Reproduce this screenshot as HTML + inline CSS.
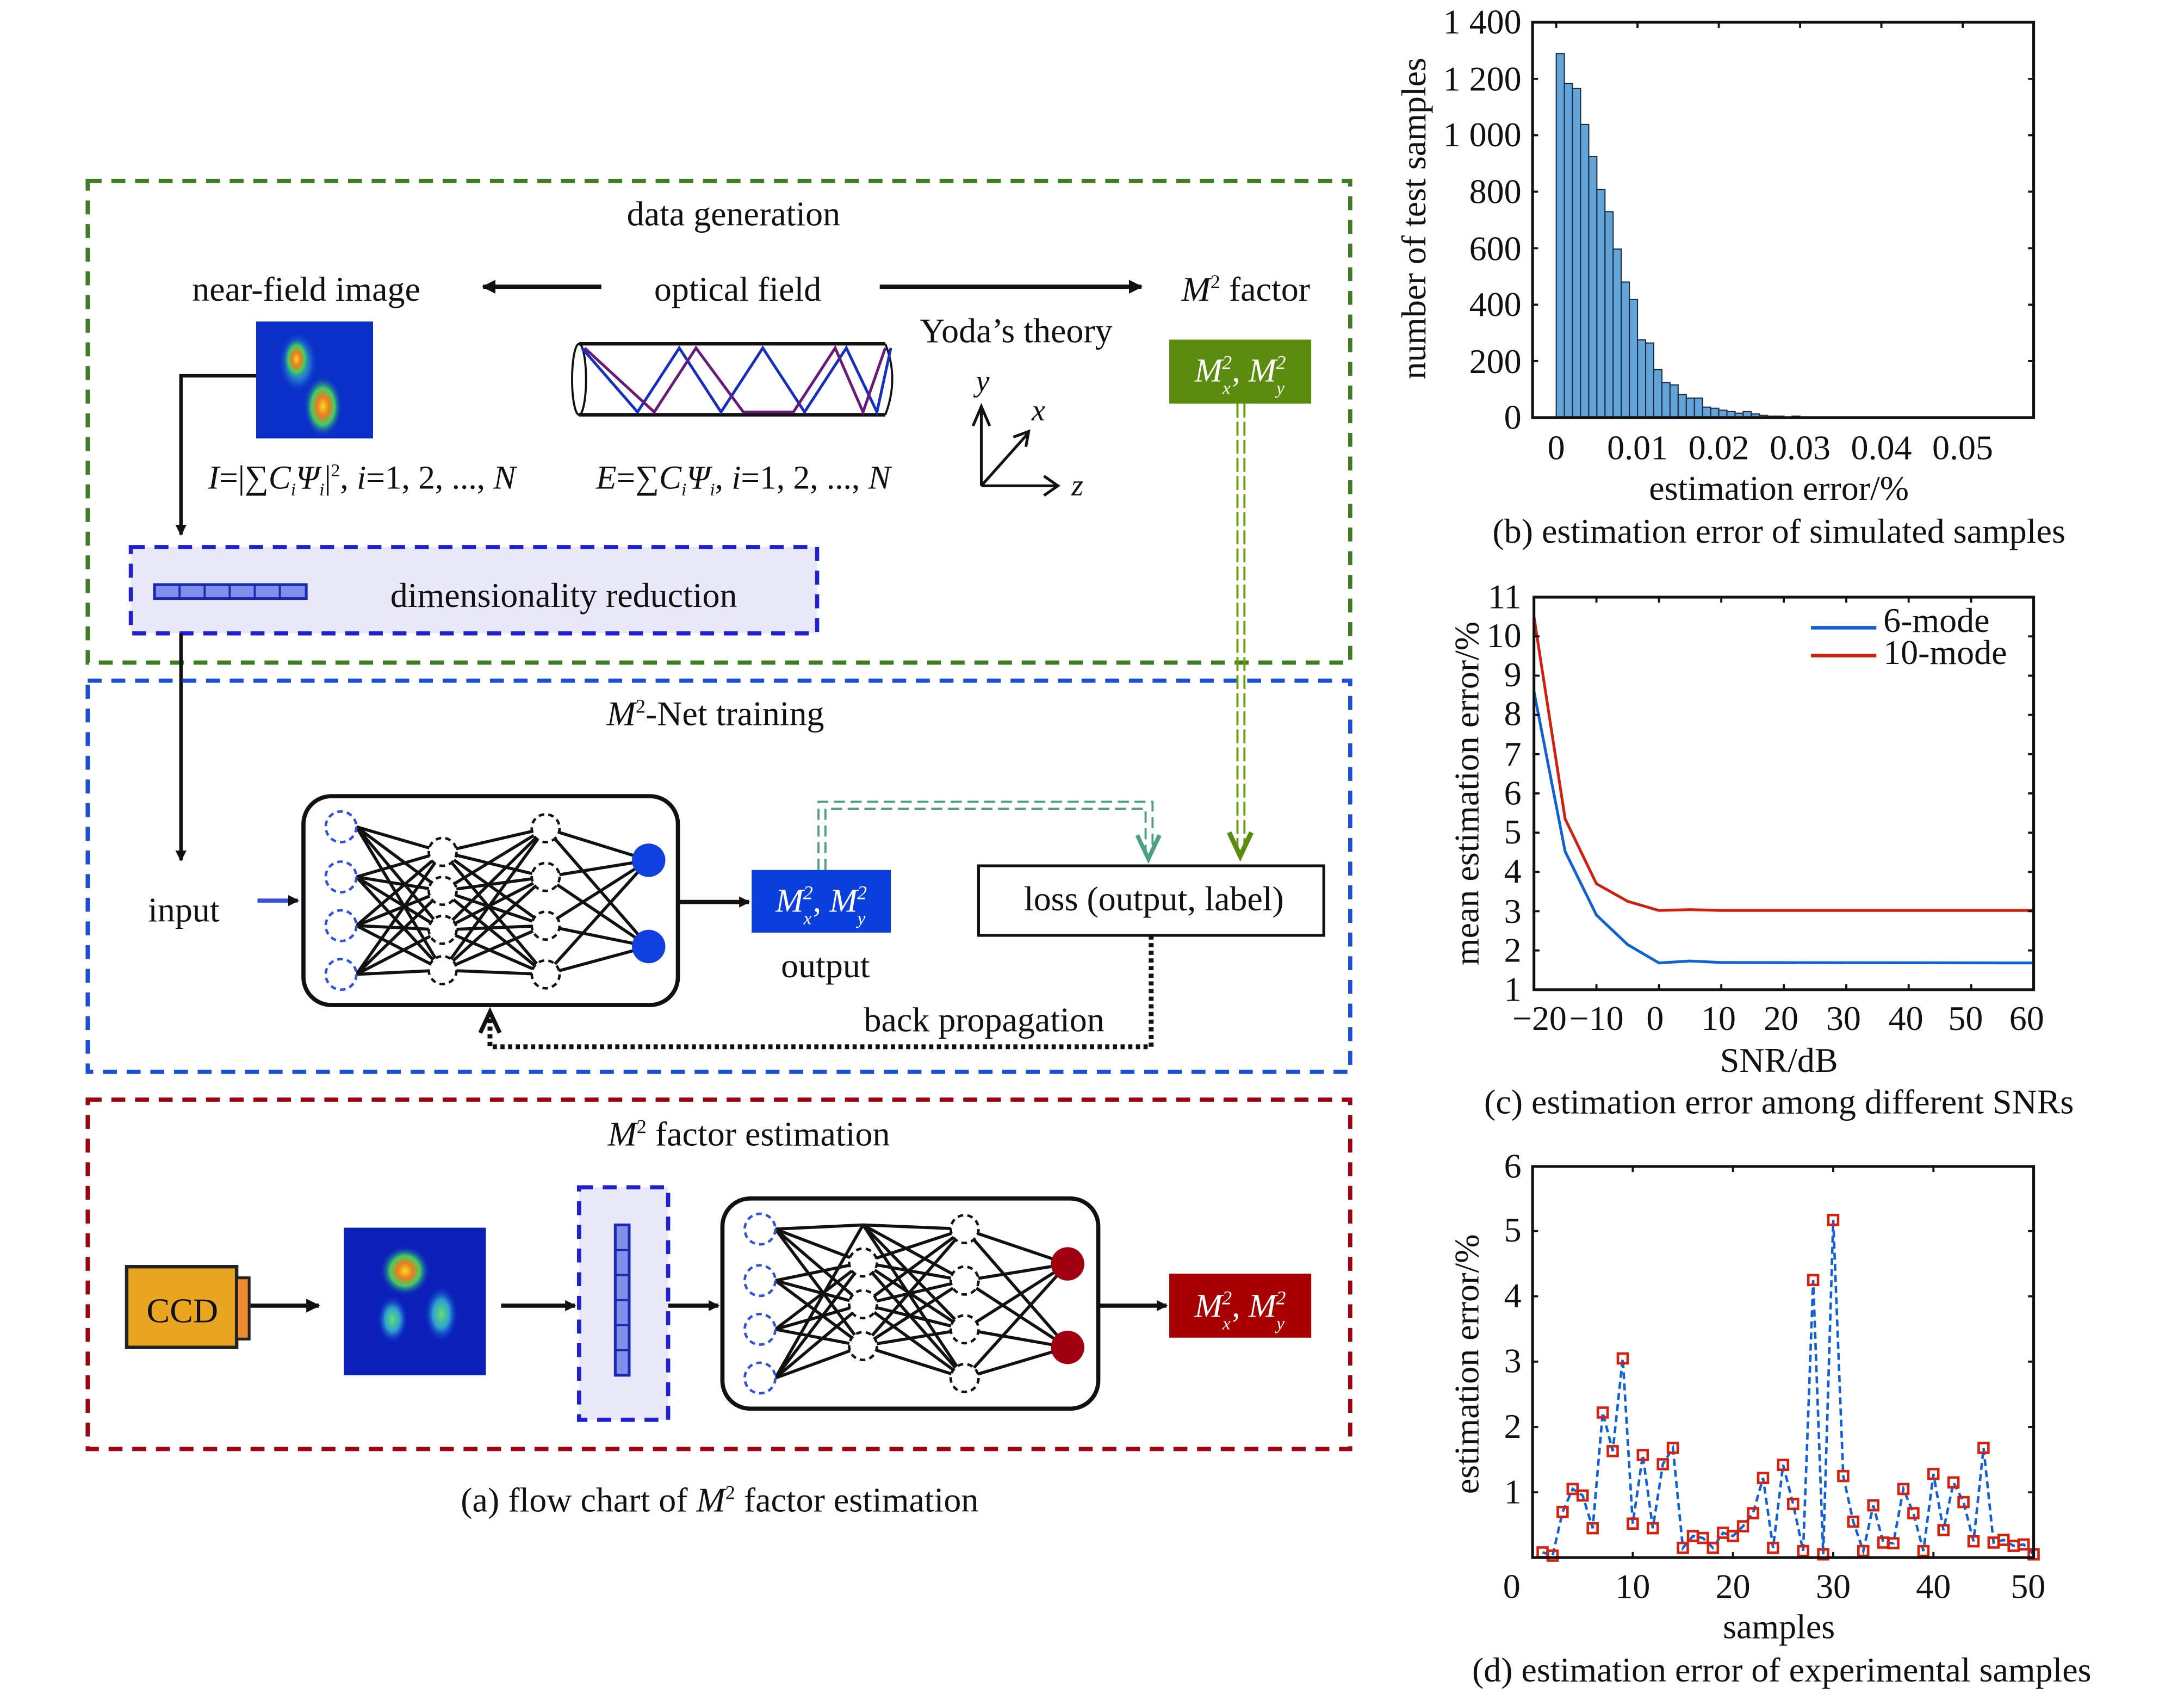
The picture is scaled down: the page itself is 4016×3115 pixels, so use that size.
<!DOCTYPE html>
<html><head><meta charset="utf-8"><style>
html,body{margin:0;padding:0;background:#fff}
svg{display:block}
text{font-family:"Liberation Serif",serif;fill:#111}
</style></head><body>
<svg width="4016" height="3115" viewBox="0 0 1569 1217" xmlns="http://www.w3.org/2000/svg">
<defs>
<marker id="ah" markerWidth="8" markerHeight="8" refX="7" refY="4" orient="auto" markerUnits="userSpaceOnUse"><path d="M0,0 L8,4 L0,8 Z" fill="#111"/></marker>
<marker id="ahb" markerWidth="10" markerHeight="10" refX="9" refY="5" orient="auto" markerUnits="userSpaceOnUse"><path d="M0,0 L10,5 L0,10 Z" fill="#111"/></marker>
<marker id="sq" markerWidth="10" markerHeight="10" refX="5" refY="5" markerUnits="userSpaceOnUse"><rect x="1.5" y="1.5" width="7" height="7" fill="none" stroke="#d8200e" stroke-width="1.8"/></marker>
<radialGradient id="g1"><stop offset="0" stop-color="#f0e020"/><stop offset="0.3" stop-color="#f07a20"/><stop offset="0.6" stop-color="#40d060"/><stop offset="1" stop-color="#0a2fd0" stop-opacity="0"/></radialGradient>
<radialGradient id="g2"><stop offset="0" stop-color="#60e070"/><stop offset="0.5" stop-color="#30a0d0"/><stop offset="1" stop-color="#0a2fd0" stop-opacity="0"/></radialGradient>
</defs>

<!-- ============ (a) flow chart ============ -->
<rect x="63" y="130" width="907" height="346" fill="none" stroke="#3f7d25" stroke-width="3" stroke-dasharray="10,7"/>
<text x="527" y="162" font-size="25" text-anchor="middle">data generation</text>
<text x="220" y="216" font-size="25" text-anchor="middle">near-field image</text>
<line x1="432" y1="206" x2="347" y2="206" stroke="#111" stroke-width="3" marker-end="url(#ahb)"/>
<text x="530" y="216" font-size="25" text-anchor="middle">optical field</text>
<line x1="632" y1="206" x2="820" y2="206" stroke="#111" stroke-width="3" marker-end="url(#ahb)"/>
<text x="895" y="216" font-size="25" text-anchor="middle"><tspan font-style="italic">M</tspan><tspan font-size="14" dy="-9">2</tspan><tspan dy="9"> factor</tspan></text>
<rect x="184" y="231" width="84" height="84" fill="#0a30c8"/>
<ellipse cx="214" cy="260" rx="14" ry="22" fill="url(#g2)"/>
<ellipse cx="213" cy="258" rx="10" ry="16" fill="url(#g1)"/>
<ellipse cx="232" cy="292" rx="14" ry="22" fill="url(#g1)"/>
<g stroke-width="1.5" fill="none">
<line x1="416" y1="247" x2="636" y2="247" stroke="#111" stroke-width="2.5"/>
<line x1="416" y1="298" x2="636" y2="298" stroke="#111" stroke-width="2.5"/>
<ellipse cx="416" cy="272.5" rx="5" ry="25.5" stroke="#111"/>
<path d="M636,247 Q646,272 636,298" stroke="#111"/>
<polyline points="418,250 458,296 488,250 518,296 548,250 578,296 608,250 630,296 640,250" stroke="#1530c0" stroke-width="2"/>
<polyline points="420,250 470,296 500,250 534,296 570,296 600,250 620,296 636,250" stroke="#6a1a7a" stroke-width="2"/>
</g>
<text x="730" y="246" font-size="25" text-anchor="middle">Yoda’s theory</text>
<g stroke="#111" stroke-width="2" fill="none">
<line x1="705" y1="349" x2="705" y2="294"/><polyline points="699,306 705,292 711,306"/>
<line x1="705" y1="349" x2="738" y2="312"/><polyline points="728,314 739,310 737,321"/>
<line x1="705" y1="349" x2="760" y2="349"/><polyline points="750,342 760,349 750,356"/>
</g>
<text x="706" y="281" font-size="22" font-style="italic" text-anchor="middle">y</text>
<text x="746" y="302" font-size="22" font-style="italic" text-anchor="middle">x</text>
<text x="774" y="356" font-size="22" font-style="italic" text-anchor="middle">z</text>
<rect x="840" y="244" width="102" height="46" fill="#5b8c10"/>
<text x="891" y="274" font-size="24" font-style="italic" text-anchor="middle" style="fill:#fff">M<tspan font-size="13" dy="9">x</tspan><tspan font-size="14" dy="-18" dx="-6">2</tspan><tspan dy="9" font-style="normal">, </tspan>M<tspan font-size="13" dy="9">y</tspan><tspan font-size="14" dy="-18" dx="-6">2</tspan></text>
<text x="260" y="351" font-size="24" text-anchor="middle"><tspan font-style="italic">I</tspan>=|∑<tspan font-style="italic">C</tspan><tspan font-size="13" dy="5" font-style="italic">i</tspan><tspan dy="-5" font-style="italic">Ψ</tspan><tspan font-size="13" dy="5" font-style="italic">i</tspan><tspan dy="-5">|</tspan><tspan font-size="13" dy="-9">2</tspan><tspan dy="9">, </tspan><tspan font-style="italic">i</tspan>=1, 2, ..., <tspan font-style="italic">N</tspan></text>
<text x="534" y="351" font-size="24" text-anchor="middle"><tspan font-style="italic">E</tspan>=∑<tspan font-style="italic">C</tspan><tspan font-size="13" dy="5" font-style="italic">i</tspan><tspan dy="-5" font-style="italic">Ψ</tspan><tspan font-size="13" dy="5" font-style="italic">i</tspan><tspan dy="-5">, </tspan><tspan font-style="italic">i</tspan>=1, 2, ..., <tspan font-style="italic">N</tspan></text>
<polyline points="184,270 130,270 130,384" fill="none" stroke="#111" stroke-width="2.5" marker-end="url(#ah)"/>
<rect x="94" y="393" width="493" height="62" fill="#e8e8f8" stroke="#2020d0" stroke-width="3" stroke-dasharray="10,7"/>
<rect x="111" y="420" width="109" height="10" fill="#8090e8" stroke="#1a2ab0" stroke-width="2"/>
<g stroke="#1a2ab0" stroke-width="1.5"><line x1="129" y1="420" x2="129" y2="430"/><line x1="147" y1="420" x2="147" y2="430"/><line x1="165" y1="420" x2="165" y2="430"/><line x1="183" y1="420" x2="183" y2="430"/><line x1="201" y1="420" x2="201" y2="430"/></g>
<text x="405" y="436" font-size="25" text-anchor="middle">dimensionality reduction</text>
<line x1="130" y1="455" x2="130" y2="618" stroke="#111" stroke-width="2.5" marker-end="url(#ah)"/>

<rect x="63" y="489" width="907" height="281" fill="none" stroke="#1a4fd8" stroke-width="3" stroke-dasharray="10,7"/>
<text x="514" y="521" font-size="25" text-anchor="middle"><tspan font-style="italic">M</tspan><tspan font-size="14" dy="-9">2</tspan><tspan dy="9">-Net training</tspan></text>
<text x="132" y="662" font-size="25" text-anchor="middle">input</text>
<line x1="185" y1="647" x2="214" y2="647" stroke="#3a4fe0" stroke-width="3" marker-end="url(#ah)"/>
<rect x="218" y="572" width="269" height="150" rx="20" fill="#fff" stroke="#111" stroke-width="3"/>
<g stroke="#111" stroke-width="2.2">
<path d="M256,594L318,612M256,594L318,640M256,594L318,668M256,594L318,697M256,630L318,612M256,630L318,640M256,630L318,668M256,630L318,697M256,665L318,612M256,665L318,640M256,665L318,668M256,665L318,697M256,700L318,612M256,700L318,640M256,700L318,668M256,700L318,697"/>
<path d="M318,612L392,595M318,612L392,630M318,612L392,665M318,612L392,700M318,640L392,595M318,640L392,630M318,640L392,665M318,640L392,700M318,668L392,595M318,668L392,630M318,668L392,665M318,668L392,700M318,697L392,595M318,697L392,630M318,697L392,665M318,697L392,700"/>
<path d="M392,595L466,618M392,595L466,680M392,630L466,618M392,630L466,680M392,665L466,618M392,665L466,680M392,700L466,618M392,700L466,680"/>
</g>
<g fill="#fff" stroke-width="1.8" stroke-dasharray="4,3">
<circle cx="245" cy="594" r="11" stroke="#3050e0"/><circle cx="245" cy="630" r="11" stroke="#3050e0"/><circle cx="245" cy="665" r="11" stroke="#3050e0"/><circle cx="245" cy="700" r="11" stroke="#3050e0"/>
<circle cx="318" cy="612" r="10" stroke="#111"/><circle cx="318" cy="640" r="10" stroke="#111"/><circle cx="318" cy="668" r="10" stroke="#111"/><circle cx="318" cy="697" r="10" stroke="#111"/>
<circle cx="392" cy="595" r="10" stroke="#111"/><circle cx="392" cy="630" r="10" stroke="#111"/><circle cx="392" cy="665" r="10" stroke="#111"/><circle cx="392" cy="700" r="10" stroke="#111"/>
</g>
<circle cx="466" cy="618" r="12" fill="#1040e0"/><circle cx="466" cy="680" r="12" fill="#1040e0"/>
<line x1="487" y1="648" x2="538" y2="648" stroke="#111" stroke-width="3" marker-end="url(#ah)"/>
<rect x="540" y="625" width="100" height="45" fill="#0a3fdb"/>
<text x="590" y="655" font-size="24" font-style="italic" text-anchor="middle" style="fill:#fff">M<tspan font-size="13" dy="9">x</tspan><tspan font-size="14" dy="-18" dx="-6">2</tspan><tspan dy="9" font-style="normal">, </tspan>M<tspan font-size="13" dy="9">y</tspan><tspan font-size="14" dy="-18" dx="-6">2</tspan></text>
<text x="593" y="702" font-size="25" text-anchor="middle">output</text>
<rect x="703" y="622" width="248" height="50" fill="#fff" stroke="#111" stroke-width="2"/>
<text x="829" y="654" font-size="25" text-anchor="middle">loss (output, label)</text>
<g fill="none" stroke="#4aa080" stroke-width="1.5" stroke-dasharray="8,4">
<polyline points="588,625 588,576 828,576 828,612"/>
<polyline points="593,625 593,581 823,581 823,612"/>
</g>
<polyline points="817,600 825,617 833,600" fill="none" stroke="#4aa080" stroke-width="3"/>
<g fill="none" stroke="#6aa010" stroke-width="1.5" stroke-dasharray="10,3">
<line x1="889" y1="290" x2="889" y2="610"/><line x1="894" y1="290" x2="894" y2="610"/>
</g>
<polyline points="883,598 891,615 899,598" fill="none" stroke="#5b8c10" stroke-width="3.5"/>
<polyline points="827,672 827,752 352,752 352,732" fill="none" stroke="#111" stroke-width="3.5" stroke-dasharray="3,2.5"/>
<polyline points="345,742 352,727 359,742" fill="none" stroke="#111" stroke-width="3"/>
<text x="707" y="741" font-size="25" text-anchor="middle">back propagation</text>

<rect x="63" y="790" width="907" height="251" fill="none" stroke="#a00010" stroke-width="3" stroke-dasharray="10,7"/>
<text x="538" y="823" font-size="25" text-anchor="middle"><tspan font-style="italic">M</tspan><tspan font-size="14" dy="-9">2</tspan><tspan dy="9"> factor estimation</tspan></text>
<rect x="91" y="910" width="79" height="58" fill="#e9a520" stroke="#222" stroke-width="2.5"/>
<rect x="170" y="918" width="9" height="44" fill="#f08a30" stroke="#222" stroke-width="2"/>
<text x="131" y="950" font-size="25" text-anchor="middle">CCD</text>
<line x1="180" y1="938" x2="229" y2="938" stroke="#111" stroke-width="3" marker-end="url(#ahb)"/>
<rect x="247" y="882" width="102" height="106" fill="#0a20b8"/>
<ellipse cx="291" cy="913" rx="18" ry="18" fill="url(#g1)"/>
<ellipse cx="282" cy="948" rx="11" ry="17" fill="url(#g2)"/>
<ellipse cx="317" cy="944" rx="12" ry="20" fill="url(#g2)"/>
<line x1="360" y1="938" x2="413" y2="938" stroke="#111" stroke-width="3" marker-end="url(#ah)"/>
<rect x="416" y="853" width="64" height="167" fill="#e8e8f8" stroke="#2020d0" stroke-width="3" stroke-dasharray="10,7"/>
<rect x="442" y="880" width="10" height="108" fill="#8090e8" stroke="#1a2ab0" stroke-width="2"/>
<g stroke="#1a2ab0" stroke-width="1.5"><line x1="442" y1="898" x2="452" y2="898"/><line x1="442" y1="916" x2="452" y2="916"/><line x1="442" y1="934" x2="452" y2="934"/><line x1="442" y1="952" x2="452" y2="952"/><line x1="442" y1="970" x2="452" y2="970"/></g>
<line x1="480" y1="938" x2="516" y2="938" stroke="#111" stroke-width="3" marker-end="url(#ah)"/>
<rect x="519" y="861" width="270" height="151" rx="20" fill="#fff" stroke="#111" stroke-width="3"/>
<g stroke="#111" stroke-width="2.2">
<path d="M557,883L620,907M557,883L620,937M557,883L620,967M557,920L620,907M557,920L620,937M557,920L620,967M557,955L620,907M557,955L620,937M557,955L620,967M557,990L620,907M557,990L620,937M557,990L620,967M557,883L620,880M557,990L620,880"/>
<path d="M620,880L693,883M620,880L693,920M620,880L693,955M620,880L693,990M620,907L693,883M620,907L693,920M620,907L693,955M620,907L693,990M620,937L693,883M620,937L693,920M620,937L693,955M620,937L693,990M620,967L693,883M620,967L693,920M620,967L693,955M620,967L693,990"/>
<path d="M693,883L767,908M693,883L767,968M693,920L767,908M693,920L767,968M693,955L767,908M693,955L767,968M693,990L767,908M693,990L767,968"/>
</g>
<g fill="#fff" stroke-width="1.8" stroke-dasharray="4,3">
<circle cx="546" cy="883" r="11" stroke="#3050e0"/><circle cx="546" cy="920" r="11" stroke="#3050e0"/><circle cx="546" cy="955" r="11" stroke="#3050e0"/><circle cx="546" cy="990" r="11" stroke="#3050e0"/>
<circle cx="620" cy="907" r="10" stroke="#111"/><circle cx="620" cy="937" r="10" stroke="#111"/><circle cx="620" cy="967" r="10" stroke="#111"/>
<circle cx="693" cy="883" r="10" stroke="#111"/><circle cx="693" cy="920" r="10" stroke="#111"/><circle cx="693" cy="955" r="10" stroke="#111"/><circle cx="693" cy="990" r="10" stroke="#111"/>
</g>
<circle cx="767" cy="908" r="12" fill="#a00010"/><circle cx="767" cy="968" r="12" fill="#a00010"/>
<line x1="789" y1="938" x2="838" y2="938" stroke="#111" stroke-width="3" marker-end="url(#ah)"/>
<rect x="840" y="915" width="102" height="46" fill="#a80000"/>
<text x="891" y="946" font-size="24" font-style="italic" text-anchor="middle" style="fill:#fff">M<tspan font-size="13" dy="9">x</tspan><tspan font-size="14" dy="-18" dx="-6">2</tspan><tspan dy="9" font-style="normal">, </tspan>M<tspan font-size="13" dy="9">y</tspan><tspan font-size="14" dy="-18" dx="-6">2</tspan></text>
<text x="517" y="1086" font-size="25" text-anchor="middle">(a) flow chart of <tspan font-style="italic">M</tspan><tspan font-size="14" dy="-9">2</tspan><tspan dy="9"> factor estimation</tspan></text>

<!-- ============ (b) histogram ============ -->
<g fill="#62a3d8" stroke="#1a2a40" stroke-width="0.8">
<rect x="1118" y="38.5" width="5.84" height="261.5"/>
<rect x="1123.84" y="60" width="5.84" height="240"/>
<rect x="1129.68" y="63.6" width="5.84" height="236.4"/>
<rect x="1135.52" y="89.4" width="5.84" height="210.6"/>
<rect x="1141.36" y="112.5" width="5.84" height="187.5"/>
<rect x="1147.2" y="136.1" width="5.84" height="163.9"/>
<rect x="1153.04" y="152.1" width="5.84" height="147.9"/>
<rect x="1158.88" y="178.9" width="5.84" height="121.1"/>
<rect x="1164.72" y="202.6" width="5.84" height="97.4"/>
<rect x="1170.56" y="215.2" width="5.84" height="84.8"/>
<rect x="1176.4" y="244.2" width="5.84" height="55.8"/>
<rect x="1182.24" y="246.4" width="5.84" height="53.6"/>
<rect x="1188.08" y="265.5" width="5.84" height="34.5"/>
<rect x="1193.92" y="274.8" width="5.84" height="25.2"/>
<rect x="1199.76" y="276.5" width="5.84" height="23.5"/>
<rect x="1205.6" y="283.4" width="5.84" height="16.6"/>
<rect x="1211.44" y="286" width="5.84" height="14"/>
<rect x="1217.28" y="286" width="5.84" height="14"/>
<rect x="1223.12" y="292.5" width="5.84" height="7.5"/>
<rect x="1228.96" y="293.3" width="5.84" height="6.7"/>
<rect x="1234.8" y="294.7" width="5.84" height="5.3"/>
<rect x="1240.64" y="295.7" width="5.84" height="4.3"/>
<rect x="1246.48" y="296.8" width="5.84" height="3.2"/>
<rect x="1252.32" y="295.7" width="5.84" height="4.3"/>
<rect x="1258.16" y="297.4" width="5.84" height="2.6"/>
<rect x="1264" y="298.4" width="5.84" height="1.6"/>
<rect x="1269.84" y="299" width="5.84" height="1"/>
<rect x="1275.68" y="299" width="5.84" height="1"/>
<rect x="1287.36" y="299" width="5.84" height="1"/>
</g>
<rect x="1101" y="16" width="360" height="284" fill="none" stroke="#111" stroke-width="2"/>
<g stroke="#111" stroke-width="1.5">
<path d="M1101,259.4h4M1101,218.9h4M1101,178.3h4M1101,137.7h4M1101,97.1h4M1101,56.6h4M1461,259.4h-4M1461,218.9h-4M1461,178.3h-4M1461,137.7h-4M1461,97.1h-4M1461,56.6h-4"/>
<path d="M1118,16v4M1176.4,16v4M1234.8,16v4M1293.2,16v4M1351.6,16v4M1410,16v4"/>
</g>
<g font-size="25" text-anchor="end">
<text x="1093" y="308">0</text><text x="1093" y="268">200</text><text x="1093" y="227">400</text><text x="1093" y="187">600</text><text x="1093" y="146">800</text><text x="1093" y="105">1 000</text><text x="1093" y="65">1 200</text><text x="1093" y="24">1 400</text>
</g>
<g font-size="25" text-anchor="middle">
<text x="1118" y="330">0</text><text x="1176.4" y="330">0.01</text><text x="1234.8" y="330">0.02</text><text x="1293.2" y="330">0.03</text><text x="1351.6" y="330">0.04</text><text x="1410" y="330">0.05</text>
</g>
<text x="1278" y="359" font-size="25" text-anchor="middle">estimation error/%</text>
<text transform="translate(1024,157) rotate(-90)" font-size="25" text-anchor="middle">number of test samples</text>
<text x="1278" y="390" font-size="25" text-anchor="middle">(b) estimation error of simulated samples</text>

<!-- ============ (c) SNR ============ -->
<polyline points="1102,443 1124.4,588.3 1146.9,634.9 1169.3,647.5 1191.8,654.1 1214.2,653.5 1236.6,654.1 1461,654.1" fill="none" stroke="#d02010" stroke-width="2"/>
<polyline points="1102,496.7 1124.4,611.7 1146.9,657.4 1169.3,678.6 1191.8,691.8 1214.2,690.4 1236.6,691.5 1461,691.8" fill="none" stroke="#1060d8" stroke-width="2"/>
<rect x="1102" y="429" width="359" height="282" fill="none" stroke="#111" stroke-width="2"/>
<g stroke="#111" stroke-width="1.5">
<path d="M1102,682.8h4M1102,654.6h4M1102,626.4h4M1102,598.2h4M1102,570h4M1102,541.8h4M1102,513.6h4M1102,485.4h4M1102,457.2h4M1461,682.8h-4M1461,654.6h-4M1461,626.4h-4M1461,598.2h-4M1461,570h-4M1461,541.8h-4M1461,513.6h-4M1461,485.4h-4M1461,457.2h-4"/>
<path d="M1146.9,711v-4M1191.8,711v-4M1236.6,711v-4M1281.5,711v-4M1326.4,711v-4M1371.2,711v-4M1416.1,711v-4M1146.9,429v4M1191.8,429v4M1236.6,429v4M1281.5,429v4M1326.4,429v4M1371.2,429v4M1416.1,429v4"/>
</g>
<g font-size="25" text-anchor="end">
<text x="1093" y="719">1</text><text x="1093" y="691">2</text><text x="1093" y="663">3</text><text x="1093" y="634">4</text><text x="1093" y="606">5</text><text x="1093" y="578">6</text><text x="1093" y="550">7</text><text x="1093" y="521">8</text><text x="1093" y="493">9</text><text x="1093" y="465">10</text><text x="1093" y="437">11</text>
</g>
<g font-size="25" text-anchor="middle">
<text x="1106" y="740">−20</text><text x="1146.9" y="740">−10</text><text x="1189" y="740">0</text><text x="1234.6" y="740">10</text><text x="1279.5" y="740">20</text><text x="1324.4" y="740">30</text><text x="1369.2" y="740">40</text><text x="1412.1" y="740">50</text><text x="1456" y="740">60</text>
</g>
<text x="1278" y="770" font-size="25" text-anchor="middle">SNR/dB</text>
<text transform="translate(1062,570) rotate(-90)" font-size="25" text-anchor="middle">mean estimation error/%</text>
<text x="1278" y="800" font-size="25" text-anchor="middle">(c) estimation error among different SNRs</text>
<line x1="1301" y1="451" x2="1348" y2="451" stroke="#1060d8" stroke-width="2.5"/>
<line x1="1301" y1="471" x2="1348" y2="471" stroke="#d02010" stroke-width="2.5"/>
<text x="1353" y="454" font-size="25">6-mode</text>
<text x="1353" y="477" font-size="25">10-mode</text>

<!-- ============ (d) experimental ============ -->
<polyline points="1108.2,1115.2 1115.4,1117.6 1122.6,1086.2 1129.8,1069.7 1137,1074.4 1144.2,1097.9 1151.4,1014.8 1158.6,1042.5 1165.8,975.9 1173,1094.6 1180.2,1045.3 1187.4,1097.9 1194.6,1051.9 1201.8,1040.2 1209,1112 1216.2,1103.5 1223.4,1104.9 1230.6,1112 1237.8,1101.2 1245,1103.5 1252.2,1096.5 1259.4,1087.1 1266.6,1061.8 1273.8,1112 1281,1052.4 1288.2,1080.5 1295.4,1114.3 1302.6,919.6 1309.8,1116.7 1317,876.4 1324.2,1060.4 1331.4,1093.2 1338.6,1114.3 1345.8,1081.5 1353,1108.2 1360.2,1108.7 1367.4,1069.7 1374.6,1087.1 1381.8,1114.3 1389,1058.9 1396.2,1099.3 1403.4,1065 1410.6,1079.1 1417.8,1107.3 1425,1040.2 1432.2,1108.2 1439.4,1106.3 1446.6,1110.6 1453.8,1109.6 1461,1116.7" fill="none" stroke="#1060d8" stroke-width="1.8" stroke-dasharray="5,3" marker-start="url(#sq)" marker-mid="url(#sq)" marker-end="url(#sq)"/>
<rect x="1101" y="838" width="360" height="281" fill="none" stroke="#111" stroke-width="2"/>
<g stroke="#111" stroke-width="1.5">
<path d="M1101,1072.1h4M1101,1025.2h4M1101,978.2h4M1101,931.3h4M1101,884.4h4M1461,1072.1h-4M1461,1025.2h-4M1461,978.2h-4M1461,931.3h-4M1461,884.4h-4"/>
<path d="M1173,838v4M1245,838v4M1317,838v4M1389,838v4M1173,1119v-4M1245,1119v-4M1317,1119v-4M1389,1119v-4"/>
</g>
<g font-size="25" text-anchor="end">
<text x="1093" y="1080">1</text><text x="1093" y="1033">2</text><text x="1093" y="986">3</text><text x="1093" y="939">4</text><text x="1093" y="892">5</text><text x="1093" y="846">6</text>
</g>
<g font-size="25" text-anchor="middle">
<text x="1086" y="1148">0</text><text x="1173" y="1148">10</text><text x="1245" y="1148">20</text><text x="1317" y="1148">30</text><text x="1389" y="1148">40</text><text x="1457" y="1148">50</text>
</g>
<text x="1278" y="1177" font-size="25" text-anchor="middle">samples</text>
<text transform="translate(1062,980) rotate(-90)" font-size="25" text-anchor="middle">estimation error/%</text>
<text x="1280" y="1208" font-size="25" text-anchor="middle">(d) estimation error of experimental samples</text>
</svg>
</body></html>
